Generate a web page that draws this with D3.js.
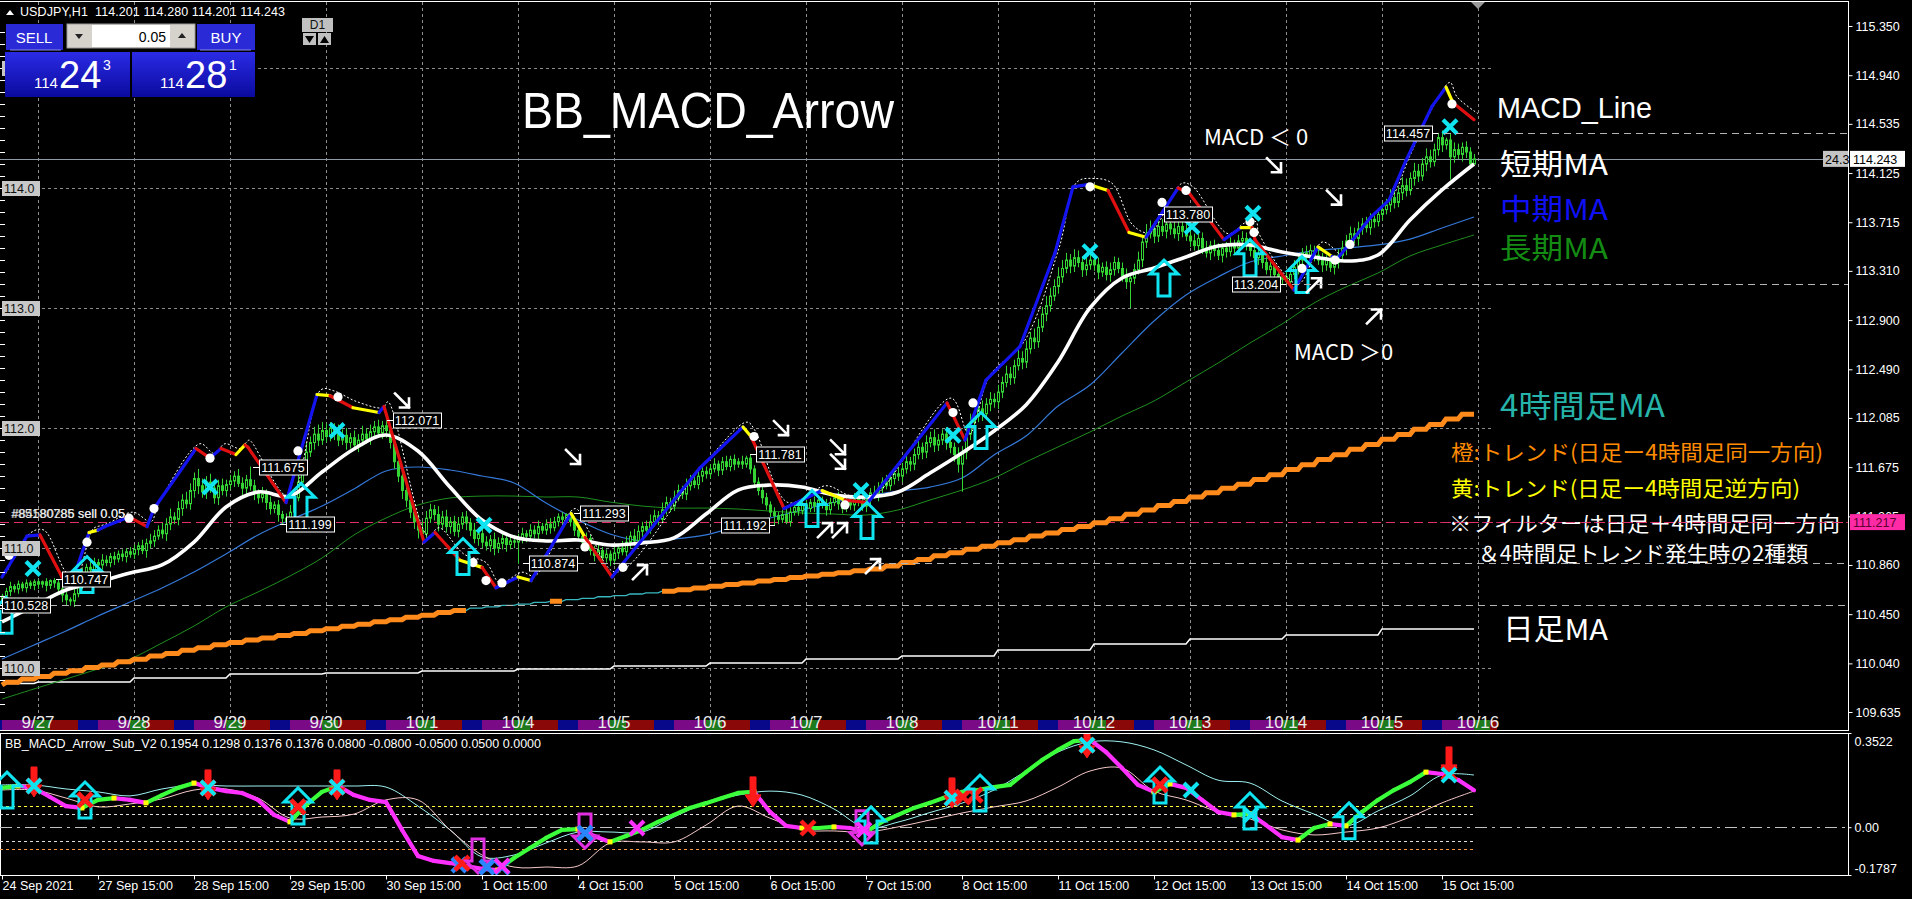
<!DOCTYPE html>
<html><head><meta charset="utf-8">
<script src="https://cdn.jsdelivr.net/npm/d3@7"></script>
<style>html,body{margin:0;padding:0;background:#000;overflow:hidden}svg{display:block}</style>
</head><body>
<svg id="chart" width="1912" height="899"></svg>
<script>
// ======================= DATA =======================
// hourly closes, Fri 24 Sep 15:00 .. Fri 15 Oct 23:00 (USDJPY H1)
const firstOpen = 110.57;
const closes = [
110.60,110.64,110.68,110.66,110.70,110.67,110.71,110.69,110.72,
110.70,110.72,110.69,110.73,110.71,110.66,110.61,110.57,110.56,110.62,110.70,110.78,110.84,110.82,110.88,110.86,110.90,110.88,110.93,110.91,110.95,110.93,110.97,110.95,
110.99,111.02,110.98,111.04,111.06,111.10,111.15,111.12,111.20,111.26,111.24,111.33,111.40,111.37,111.48,111.58,111.52,111.47,111.55,111.50,111.42,111.52,111.48,111.53,
111.56,111.60,111.54,111.50,111.57,111.52,111.46,111.42,111.45,111.38,111.33,111.36,111.28,111.25,111.22,111.30,111.42,111.55,111.68,111.80,111.88,111.95,111.90,111.98,
111.93,112.00,111.96,111.90,111.94,111.88,111.92,111.86,111.90,111.95,111.91,111.97,112.01,111.96,112.02,111.98,111.88,111.72,111.60,111.48,111.40,111.30,111.22,111.15,
111.12,111.25,111.32,111.28,111.20,111.26,111.18,111.22,111.14,111.20,111.26,111.21,111.15,111.08,111.12,111.05,111.02,111.07,111.00,111.04,111.08,111.03,111.06,111.05,
111.08,111.12,111.10,111.15,111.12,111.18,111.15,111.20,111.17,111.22,111.26,111.24,111.28,111.22,111.15,111.10,111.05,111.08,110.98,110.94,110.98,110.92,110.95,110.90,
110.96,111.00,110.97,111.05,111.10,111.06,111.14,111.18,111.15,111.22,111.27,111.24,111.32,111.38,111.35,111.42,111.48,111.45,111.52,111.56,111.53,111.60,111.64,111.62,
111.66,111.70,111.65,111.72,111.68,111.74,111.70,111.72,111.70,111.75,111.66,111.55,111.48,111.42,111.36,111.30,111.27,111.24,111.28,111.22,111.30,111.34,111.31,111.36,
111.33,111.38,111.35,111.40,111.36,111.32,111.38,111.42,111.37,111.33,111.39,111.36,111.41,111.38,111.35,111.40,111.46,111.44,111.50,111.55,111.52,111.58,111.62,111.60,
111.66,111.72,111.70,111.78,111.84,111.80,111.88,111.92,111.86,111.90,111.95,111.88,111.84,111.78,111.70,111.80,111.95,112.05,112.10,112.16,112.12,112.20,112.24,112.22,
112.30,112.38,112.45,112.42,112.52,112.58,112.55,112.66,112.75,112.72,112.84,112.95,113.02,113.10,113.18,113.26,113.33,113.40,113.35,113.42,113.38,113.32,113.36,113.40,
113.36,113.30,113.34,113.28,113.32,113.38,113.33,113.27,113.22,113.25,113.32,113.40,113.55,113.62,113.66,113.60,113.68,113.64,113.70,113.66,113.62,113.68,113.64,113.60,
113.56,113.52,113.58,113.50,113.46,113.52,113.48,113.44,113.50,113.47,113.53,113.50,113.56,113.58,113.54,113.48,113.42,113.45,113.38,113.32,113.35,113.28,113.24,113.26,
113.22,113.28,113.34,113.40,113.46,113.42,113.48,113.44,113.40,113.36,113.40,113.34,113.38,113.44,113.50,113.56,113.62,113.58,113.66,113.70,113.67,113.74,113.72,113.78,
113.82,113.86,113.92,113.88,113.96,114.02,113.98,114.08,114.14,114.10,114.20,114.26,114.22,114.32,114.42,114.36,114.40,114.26,114.32,114.28,114.34,114.30,114.20,114.243];
// upper / lower wick length in pips
const upWick = [
2,3,4,2,3,2,3,2,2,
2,1,3,1,2,3,4,3,2,5,4,6,3,5,4,3,5,4,3,4,3,4,3,4,
4,3,5,4,6,5,4,6,5,7,4,6,5,7,6,5,8,6,5,7,6,5,6,4,
5,4,6,5,4,11,5,3,6,4,5,3,4,3,4,6,5,7,6,8,5,6,8,7,
6,5,4,7,5,6,4,6,5,7,5,6,5,6,4,5,4,3,5,4,3,5,4,6,
8,6,5,4,7,5,6,4,5,6,4,5,4,6,5,4,5,4,6,5,4,5,4,5,
4,5,3,5,4,5,3,4,5,4,3,4,1,3,4,3,4,5,3,4,5,3,4,3,
5,4,6,5,4,6,5,4,5,6,5,4,6,5,4,6,5,4,6,5,4,5,6,4,
4,5,3,4,5,3,4,3,5,2,3,3,4,5,4,3,4,3,4,5,4,3,4,5,
4,3,5,4,3,5,4,3,5,4,3,4,5,3,4,5,4,6,5,4,6,5,4,5,
5,6,4,5,6,4,6,5,7,5,4,6,5,4,6,5,6,7,5,6,7,5,6,5,
6,5,7,6,5,8,6,7,5,8,7,6,8,7,6,8,7,6,5,7,6,5,6,5,
5,6,4,5,6,5,4,5,6,4,5,7,6,8,7,6,10,6,5,7,6,5,4,6,
5,6,4,5,6,4,5,6,4,5,6,4,5,6,5,4,5,6,4,5,4,3,4,3,
4,5,6,5,4,6,5,4,5,6,4,5,6,5,6,5,6,5,6,5,6,5,6,5,
6,5,7,6,5,7,6,5,7,6,5,7,6,5,4,6,2,5,6,5,4,5,4,4];
const dnWick = [
4,3,4,3,4,3,4,3,4,
4,3,5,3,4,5,6,5,4,5,3,4,5,4,3,5,4,3,4,5,3,4,5,3,
4,5,3,6,4,5,3,4,6,5,4,5,6,4,5,6,7,5,6,4,5,6,4,5,
4,5,3,6,5,4,6,5,4,6,5,4,6,5,2,4,5,3,4,5,4,6,5,4,
5,4,6,5,4,6,5,4,6,5,4,5,6,4,5,6,5,6,5,7,6,5,6,7,
5,6,4,5,6,4,5,6,4,5,4,6,5,4,6,5,4,5,6,4,5,6,4,5,
18,4,5,3,4,5,3,4,5,3,4,5,3,4,5,4,5,3,4,5,4,3,4,5,
4,5,3,4,5,4,3,5,4,3,4,5,3,4,5,4,3,4,5,4,3,4,5,4,
4,3,5,4,3,4,5,3,4,3,4,5,4,5,4,4,8,4,3,2,4,3,4,3,
4,3,5,4,3,5,4,3,5,4,3,4,5,3,4,5,4,3,5,4,3,4,5,4,
5,4,6,5,4,6,5,4,6,5,4,6,5,6,7,23,6,5,6,5,6,5,6,5,
6,5,4,6,5,4,6,5,4,6,5,4,6,5,4,6,5,4,6,5,4,6,5,4,
5,6,4,5,6,5,4,5,6,22,5,4,6,5,4,6,5,4,6,5,4,6,5,4,
5,4,6,5,4,6,5,4,6,5,4,6,5,4,6,5,4,6,5,4,6,5,3,4,
2,5,4,6,5,4,6,5,4,6,5,4,6,5,4,6,5,4,6,5,4,6,5,4,
5,4,6,5,4,6,5,4,6,5,4,6,5,4,5,6,4,19,5,4,6,5,4,0];

// moving averages sampled every 8 bars
const maShort = [110.385,110.518,110.651,110.718,110.793,110.860,111.051,111.343,111.468,111.434,
111.634,111.826,111.943,111.809,111.509,111.234,111.093,111.060,111.068,111.026,
111.043,111.085,111.284,111.484,111.526,111.509,111.443,111.426,111.468,111.626,
111.793,111.976,112.193,112.551,113.001,113.251,113.334,113.426,113.517,113.526,
113.467,113.426,113.392,113.442,113.734,113.984,114.200];
const maMid = [110.076,110.193,110.310,110.435,110.551,110.668,110.801,110.951,111.110,111.234,
111.351,111.493,111.643,111.676,111.651,111.601,111.543,111.376,111.234,111.118,
111.060,111.076,111.110,111.184,111.251,111.318,111.384,111.434,111.476,111.509,
111.584,111.776,111.934,112.184,112.359,112.626,112.892,113.109,113.259,113.384,
113.434,113.476,113.501,113.526,113.575,113.667,113.759];
const maLong = [109.743,109.827,109.910,109.993,110.076,110.210,110.351,110.510,110.635,110.768,
110.918,111.110,111.251,111.359,111.418,111.434,111.434,111.426,111.426,111.384,
111.351,111.334,111.334,111.326,111.309,111.293,111.284,111.276,111.318,111.401,
111.484,111.584,111.718,111.843,111.968,112.101,112.226,112.384,112.542,112.709,
112.867,113.042,113.176,113.292,113.434,113.526,113.609];
// 4-hour MA per 4H block, and trend flag (1 = orange trend)
const ma4h = [109.860,109.882,109.909,109.931,109.957,109.978,110.005,110.027,110.054,110.075,
110.101,110.122,110.150,110.171,110.196,110.214,110.235,110.252,110.273,110.290,
110.311,110.328,110.349,110.366,110.387,110.404,110.425,110.442,110.463,110.480,
110.500,110.511,110.524,110.534,110.548,110.557,110.571,110.581,110.595,110.604,
110.618,110.628,110.641,110.654,110.669,110.682,110.698,110.710,110.726,110.738,
110.755,110.767,110.783,110.795,110.811,110.826,110.851,110.881,110.906,110.936,
110.961,110.991,111.016,111.046,111.071,111.101,111.126,111.156,111.181,111.211,
111.245,111.283,111.317,111.355,111.389,111.427,111.461,111.499,111.533,111.571,
111.611,111.655,111.695,111.739,111.779,111.823,111.863,111.907,111.947,111.991,
112.031,112.075,112.115];
const trend4h = [1,1,1,1,1,1,1,1,1,1, 1,1,1,1,1,1,1,1,1,1, 1,1,1,1,1,1,1,1,1,1,
0,0,0,0,0,1,0,0,0,0, 0,0,1,1,1,1,1,1,1,1, 1,1,1,1,1,1,1,1,1,1, 1,1,1,1,1,1,1,1,1,1,
1,1,1,1,1,1,1,1,1,1, 1,1,1,1,1,1,1,1,1,1, 1,1,1];
// daily MA per day (Fri 24 Sep .. Fri 15 Oct)
const maDaily = [109.872,109.885,109.918,109.951,109.960,109.976,109.993,110.018,110.043,110.077,110.102,110.152,110.202,110.243,110.277,110.327];

// MACD_Line (colored trend line on price chart): vertices (bar, price) and segment colors
const mlBar = [0,6.25,9.5,15,17.5,21.75,24,25.75,31.75,36.25,38,48.5,52,54.75,58.5,60.75,61.5,71,78.75,82,87.75,94.25,95.5,105.5,108.25,114.5,120,123.5,129,132.25,142.25,145.75,152.5,174.5,185.25,187.25,195.5,205,210.75,216.5,236.25,240.75,246,254.5,263.25,267.75,271.75,276.5,281.75,286,294,296.75,305.5,309.75,312.5,313.25,323,329,332.5,333.5,337,342.25,346.75,351,357.5,361,362.75,368];
const mlPrice = [110.76,111.10,111.11,110.76,110.72,111.13,111.15,111.18,111.26,111.18,111.33,111.83,111.75,111.83,111.78,111.86,111.84,111.38,112.28,112.27,112.17,112.13,112.18,111.05,111.13,110.90,110.84,110.67,110.76,110.73,111.29,111.09,110.76,111.67,112.01,111.93,111.33,111.48,111.40,111.38,112.21,111.90,112.40,112.68,113.46,114.01,114.03,113.98,113.63,113.59,114.00,113.96,113.57,113.67,113.67,113.57,113.15,113.51,113.43,113.40,113.54,113.76,113.90,114.23,114.68,114.84,114.71,114.57];
const mlColor = ['b','b','r','r','b','y','b','b','r','b','b','r','b','r','y','r','r','b','y','r','y','b','r','b','r','y','r','b','y','b','y','r','b','b','y','r','b','y','r','b','r','b','b','b','b','b','y','r','y','b','r','r','b','y','r','r','b','y','b','b','b','b','b','b','b','y','r'];
// dotted band accompanying the MACD_Line (same bars as mlBar)
const bbBand = [110.79,111.13,111.15,110.80,110.75,111.16,111.19,111.21,111.30,111.22,
111.36,111.87,111.79,111.87,111.83,111.90,111.88,111.42,112.32,112.31,
112.22,112.17,112.22,111.10,111.17,110.95,110.88,110.71,110.80,110.77,
111.33,111.14,110.80,111.70,112.05,111.98,111.38,111.52,111.44,111.42,
112.25,111.95,112.44,112.72,113.50,114.05,114.08,114.04,113.69,113.63,
114.04,114.01,113.62,113.71,113.72,113.62,113.20,113.55,113.48,113.45,
113.58,113.80,113.94,114.27,114.72,114.88,114.76,114.62];

// signal markers on price chart
const dotBar = [1.75,21.25,31.75,38,52,74,84,117.75,121,125,145.75,155.25,188,210.75,237.75,242.75,272,290,296,312,313,325,333.25,337,362.5];
const dotPrice = [110.94,111.05,111.25,111.33,111.75,111.81,112.26,110.88,110.73,110.71,111.01,110.84,111.93,111.36,112.13,112.21,114.01,113.88,113.98,113.72,113.63,113.33,113.40,113.53,114.70];
const crossBar = [7.75,52,83.75,120.5,214.75,237.75,272,297.5,312.75,362];
const crossPrice = [110.83,111.51,111.98,111.19,111.48,111.94,113.47,113.68,113.79,114.51];
const upArrBar = [1,21.25,74.75,115.25,202.5,216.25,244.75,290.5,312,325];
const upArrPrice = [110.59,110.93,111.54,111.08,111.48,111.38,112.13,113.40,113.57,113.43];
const wArrows = [['se',100,112.23],['se',142.75,111.76],['ne',159.5,110.80],['se',194.75,112.00],['se',209,111.84],['se',209,111.72],['ne',205.75,111.15],['ne',209.5,111.15],['ne',217.75,110.85],['se',318,114.19],['se',333,113.92],['ne',328,113.19],['ne',343,112.93]];
// high/low price labels
const lblPrice = [110.528,110.747,111.675,111.199,112.071,110.874,111.293,111.192,111.781,113.780,113.204,114.457];
const lblBar = [-1.5,13.5,62.75,69.5,96.25,130.25,143,193.25,187,289,321,359];
const lblSide = ['R','R','R','R','R','R','R','L','R','R','L','L'];
const lblExtend = [1,0,0,0,0,1,0,0,0,0,1,1];

// sub window (BB_MACD_Arrow_Sub_V2)
const macdSub = [0.147,0.154,0.147,0.113,0.079,0.072,0.102,0.109,0.102,0.091,
0.120,0.147,0.165,0.147,0.135,0.128,0.102,0.046,0.020,0.083,
0.132,0.154,0.120,0.102,0.094,-0.010,-0.108,-0.126,-0.134,-0.145,
-0.156,-0.160,-0.115,-0.078,-0.040,-0.010,-0.007,-0.033,-0.055,-0.033,
-0.010,0.020,0.046,0.072,0.090,0.109,0.128,0.132,0.057,0.005,
-0.003,-0.003,0.001,-0.003,-0.018,0.020,0.046,0.072,0.091,0.113,
0.132,0.139,0.150,0.158,0.206,0.251,0.289,0.322,0.326,0.281,
0.221,0.158,0.132,0.162,0.147,0.102,0.057,0.046,0.050,0.008,
-0.037,-0.048,-0.003,0.012,0.005,0.057,0.102,0.139,0.169,0.206,
0.199,0.177,0.138];
const upperSub = [0.158,0.158,0.143,0.132,0.117,0.143,0.158,0.154,0.154,0.154,
0.154,0.154,0.150,0.079,-0.010,-0.111,-0.104,-0.059,-0.018,-0.018,
-0.018,0.038,0.091,0.120,0.135,0.120,0.068,-0.003,0.019,0.055,
0.090,0.139,0.210,0.281,0.319,0.319,0.289,0.233,0.176,0.165,
0.098,0.049,0.005,0.061,0.117,0.195,0.195];
const lowerSub = [0.139,0.139,0.109,0.076,0.087,0.106,0.139,0.143,0.109,0.034,
0.038,0.049,0.102,0.102,-0.010,-0.104,-0.149,-0.149,-0.145,-0.059,
-0.055,-0.055,0.008,0.079,0.034,-0.010,-0.014,-0.018,0.001,0.027,
0.053,0.076,0.098,0.150,0.210,0.221,0.135,0.102,0.057,0.031,
-0.010,-0.029,-0.018,-0.003,0.038,0.091,0.135];
const subLevels = [0.08,0.05,0,-0.05,-0.08];
const subMarks = [
['upC',1.25,0.206],['dnR',8,0.113],['xR',8,0.154],['xC',8,0.154],
['upC',20.75,0.169],['xR',20.75,0.102],
['dnR',51.5,0.102],['xR',51.5,0.147],['xC',51.5,0.147],
['upC',74,0.147],['xR',74,0.076],
['dnR',83.75,0.102],['xR',83.75,0.150],['xC',83.75,0.150],
['xB',114.25,-0.141],['xR',115,-0.134],['dnM',119,-0.171],
['xB',121.25,-0.149],['xB',125,-0.149],['xM',125,-0.145],
['dnM',145.75,-0.078],['xB',145.75,-0.022],['xM',158.75,-0.003],
['dnR',187.75,0.076],['xR',201.5,-0.003],
['dnM',215,-0.066],['upC',217.25,0.076],['xM',215.5,-0.010],
['dnR',237.5,0.072],['xR',237.5,0.109],['xC',237.5,0.109],
['xR',240.25,0.113],['xR',243.25,0.120],['upC',244.5,0.195],
['dnR',271.25,0.259],['xR',271.25,0.307],['xC',271.25,0.307],
['upC',289.5,0.225],['xR',289.5,0.158],['xC',297.25,0.139],
['upC',312,0.128],['xC',312.25,0.046],['upC',336.75,0.091],
['dnR',361.75,0.188],['xR',361.75,0.203],['xC',361.75,0.195]];

// axes
const rightTicks = [115.350,114.940,114.535,114.125,113.715,113.310,112.900,112.490,112.085,111.675,111.265,110.860,110.450,110.040,109.635];
const leftLabels = [115.0,114.0,113.0,112.0,111.0,110.0];
const subTicks = [0.3522,0.0,-0.1787];
const subTickText = ['0.3522','0.00','-0.1787'];
const timeBars = [0,24,48,72,96,120,144,168,192,216,240,264,288,312,336,360];
const timeLabels = ['24 Sep 2021','27 Sep 15:00','28 Sep 15:00','29 Sep 15:00','30 Sep 15:00','1 Oct 15:00','4 Oct 15:00','5 Oct 15:00','6 Oct 15:00','7 Oct 15:00','8 Oct 15:00','11 Oct 15:00','12 Oct 15:00','13 Oct 15:00','14 Oct 15:00','15 Oct 15:00'];
const dateLabels = ['9/27','9/28','9/29','9/30','10/1','10/4','10/5','10/6','10/7','10/8','10/11','10/12','10/13','10/14','10/15','10/16'];
const sessions = [[0,3,'#1d7a1d'],[3,10,'#8a0808'],[10,15,'#08088a'],[15,23,'#7a0a86'],[23,24,'#1d7a1d']];
const bidPrice = 114.243, orderPrice = 111.217;
const ohlcHeader = 'USDJPY,H1  114.201 114.280 114.201 114.243';
const subHeader = 'BB_MACD_Arrow_Sub_V2 0.1954 0.1298 0.1376 0.1376 0.0800 -0.0800 -0.0500 0.0500 0.0000';

// ======================= DRAW =======================
const F = "'Liberation Sans', Arial, 'DejaVu Sans', sans-serif";
const FJ = "'Noto Sans CJK JP', 'Noto Sans', sans-serif";
const GREEN = '#35d435';
const svg = d3.select('#chart');
svg.append('rect').attr('width',1912).attr('height',899).attr('fill','#000');
const defs = svg.append('defs');
defs.append('clipPath').attr('id','clipMain').append('rect').attr('x',0).attr('y',2).attr('width',1848).attr('height',718);
defs.append('clipPath').attr('id','clipSub').append('rect').attr('x',0).attr('y',734).attr('width',1848).attr('height',141);
const gr = defs.append('linearGradient').attr('id','gBlue').attr('x1',0).attr('y1',0).attr('x2',0).attr('y2',1);
gr.append('stop').attr('offset','0%').attr('stop-color','#2b2be6');
gr.append('stop').attr('offset','100%').attr('stop-color','#0a0a9e');

const x = d3.scaleLinear().domain([0,368]).range([2,1474]);
const y = d3.scaleLinear().domain([109.635,115.350]).range([712,26]);
const ys = d3.scaleLinear().domain([-0.1787,0.3522]).range([875,733]);

const gM = svg.append('g').attr('clip-path','url(#clipMain)');

// grid
gM.append('g').selectAll('line').data(dateLabels).join('line')
  .attr('x1',(d,i)=>x(9+24*i)+0.5).attr('x2',(d,i)=>x(9+24*i)+0.5).attr('y1',2).attr('y2',720)
  .attr('stroke','#8e8e8e').attr('stroke-dasharray','3,3').attr('stroke-width',1);
gM.append('g').selectAll('line').data(leftLabels).join('line')
  .attr('x1',0).attr('x2',x(372.75)).attr('y1',d=>Math.round(y(d))+0.5).attr('y2',d=>Math.round(y(d))+0.5)
  .attr('stroke','#8e8e8e').attr('stroke-dasharray','3,3').attr('stroke-width',1);

// bid line and order line
gM.append('line').attr('x1',0).attr('x2',1848).attr('y1',Math.round(y(bidPrice))+0.5).attr('y2',Math.round(y(bidPrice))+0.5).attr('stroke','#8f9aa8').attr('stroke-width',1);
gM.append('line').attr('x1',0).attr('x2',1848).attr('y1',Math.round(y(orderPrice))+0.5).attr('y2',Math.round(y(orderPrice))+0.5).attr('stroke','#e0306a').attr('stroke-dasharray','9,5').attr('stroke-width',1);

// daily MA (stepped)
const dayOf = i => i<9 ? 0 : 1+Math.floor((i-9)/24);
const blockOf = i => i===0 ? 0 : (i<9 ? 1+Math.floor((i-1)/4) : 3+Math.floor((i-9)/4));
const idx = d3.range(closes.length);
gM.append('path').datum(idx).attr('fill','none').attr('stroke','#ffffff').attr('stroke-width',1.5)
  .attr('d',d3.line().x(i=>x(i)).y(i=>y(maDaily[dayOf(i)])));

// long & mid MA
const lineS = d3.line().x(d=>x(d.b)).y(d=>y(d.v)).curve(d3.curveCatmullRom);
gM.append('path').datum(maLong.map((v,k)=>({b:k*8,v}))).attr('fill','none').attr('stroke','#1f8f1f').attr('stroke-width',1).attr('d',lineS);
gM.append('path').datum(maMid.map((v,k)=>({b:k*8,v}))).attr('fill','none').attr('stroke','#3478d8').attr('stroke-width',1.2).attr('d',lineS);

// 4H MA: thin teal base + orange trend overlay
gM.append('path').datum(idx).attr('fill','none').attr('stroke','#3ab8c0').attr('stroke-width',1.3)
  .attr('d',d3.line().x(i=>x(i)).y(i=>y(ma4h[blockOf(i)])));
gM.append('path').datum(idx).attr('fill','none').attr('stroke','#ff8a1c').attr('stroke-width',5)
  .attr('d',d3.line().defined(i=>trend4h[blockOf(i)]===1).x(i=>x(i)).y(i=>y(ma4h[blockOf(i)])));

// candles
const bars = closes.map((c,i)=>{const o=i?closes[i-1]:firstOpen;return {i,o,c,h:Math.max(o,c)+(upWick[i]||0)/100,l:Math.min(o,c)-(dnWick[i]||0)/100};});
const gC = gM.append('g');
gC.selectAll('line').data(bars).join('line')
  .attr('x1',d=>x(d.i)+0.5).attr('x2',d=>x(d.i)+0.5).attr('y1',d=>y(d.h)).attr('y2',d=>y(d.l))
  .attr('stroke',GREEN).attr('stroke-width',1);
gC.selectAll('rect').data(bars).join('rect')
  .attr('x',d=>x(d.i)-0.5).attr('width',2)
  .attr('y',d=>y(Math.max(d.o,d.c))).attr('height',d=>Math.max(0.5,Math.abs(y(d.o)-y(d.c))))
  .attr('fill',d=>d.c>=d.o?'#000':GREEN).attr('stroke',GREEN).attr('stroke-width',1);

// short MA thick white
gM.append('path').datum(maShort.map((v,k)=>({b:k*8,v}))).attr('fill','none').attr('stroke','#ffffff').attr('stroke-width',3.6).attr('d',lineS);

// dotted band
gM.append('path').datum(bbBand.map((v,k)=>({b:mlBar[k]+1,v}))).attr('fill','none').attr('stroke','#ffffff')
  .attr('stroke-width',1).attr('stroke-dasharray','2,2').attr('d',lineS);

// MACD_Line colored segments
const colMap = {b:'#1414f0',r:'#e01010',y:'#ffff00'};
const mlSegs = mlColor.map((c,k)=>({c,p:[[mlBar[k],mlPrice[k]],[mlBar[k+1],mlPrice[k+1]]]}));
gM.append('g').selectAll('path').data(mlSegs).join('path')
  .attr('fill','none').attr('stroke',d=>colMap[d.c]).attr('stroke-width',3.2).attr('stroke-linecap','round')
  .attr('d',d=>d3.line().x(p=>x(p[0])).y(p=>y(p[1]))(d.p));

// white dots
gM.append('g').selectAll('circle').data(dotBar).join('circle')
  .attr('cx',(b)=>x(b)).attr('cy',(b,i)=>y(dotPrice[i])).attr('r',4.6).attr('fill','#ffffff');

// cyan up arrows (hollow)
const upPath = 'M0,0 L14,14 L6,14 L6,36 L-6,36 L-6,14 L-14,14 Z';
gM.append('g').selectAll('path').data(upArrBar).join('path')
  .attr('transform',(b,i)=>`translate(${x(b)},${y(upArrPrice[i])})`).attr('d',upPath)
  .attr('fill','none').attr('stroke','#10e4f0').attr('stroke-width',3).attr('stroke-linejoin','miter');

// cyan X marks
const xPath = 'M-7,-7 L7,7 M-7,7 L7,-7';
gM.append('g').selectAll('path').data(crossBar).join('path')
  .attr('transform',(b,i)=>`translate(${x(b)},${y(crossPrice[i])})`).attr('d',xPath)
  .attr('stroke','#10e4f0').attr('stroke-width',4.2).attr('fill','none');

// white arrows
const arrPaths = {se:'M-7,-7 L7,7 M7,7 L7,-2 M7,7 L-2,7', ne:'M-7,7 L7,-7 M7,-7 L-2,-7 M7,-7 L7,2'};
gM.append('g').selectAll('path').data(wArrows).join('path')
  .attr('transform',d=>`translate(${x(d[1])},${y(d[2])})`).attr('d',d=>arrPaths[d[0]])
  .attr('stroke','#ffffff').attr('stroke-width',2.6).attr('fill','none').attr('stroke-linecap','square');

// price labels with leader / extension lines
const LW = 48, LH = 15;
lblPrice.forEach((p,i)=>{
  const bx = x(lblBar[i]);
  const py = Math.round(y(p))+0.5;
  const left = lblSide[i]==='R' ? bx+6 : bx-6-LW;
  const g = gM.append('g');
  if (lblExtend[i]) {
    g.append('line').attr('x1',left+LW).attr('x2',1848).attr('y1',py).attr('y2',py)
      .attr('stroke','#b4b4b4').attr('stroke-dasharray','7,5').attr('stroke-width',1);
  }
  g.append('line').attr('x1',bx).attr('x2',lblSide[i]==='R'?left:left+LW).attr('y1',py).attr('y2',py).attr('stroke','#ffffff').attr('stroke-width',1);
  g.append('rect').attr('x',Math.round(left)+0.5).attr('y',Math.round(py-LH/2)).attr('width',LW).attr('height',LH)
    .attr('fill','#000').attr('stroke','#ffffff').attr('stroke-width',1);
  g.append('text').attr('x',left+LW/2).attr('y',py+4.5).attr('text-anchor','middle')
    .attr('font-family',F).attr('font-size',12.5).attr('fill','#ffffff').text(p.toFixed(3));
});

// order text
gM.append('text').attr('x',11).attr('y',y(orderPrice)-4).attr('font-family',F).attr('font-size',13.5).attr('fill','#ececec')
  .attr('textLength',114).attr('lengthAdjust','spacingAndGlyphs').text('#85180785 sell 0.05');
gM.append('text').attr('x',12).attr('y',y(orderPrice)-4).attr('font-family',F).attr('font-size',13.5).attr('fill','#ececec').attr('opacity',0.8)
  .attr('textLength',113).attr('lengthAdjust','spacingAndGlyphs').text('#84580286 sell 0.05');

// ---- titles / legends
svg.append('text').attr('x',522).attr('y',128).attr('font-family',F).attr('font-size',50).attr('fill','#fff')
  .attr('textLength',372).attr('lengthAdjust','spacingAndGlyphs').text('BB_MACD_Arrow');
svg.append('text').attr('x',1204).attr('y',145).attr('font-family',FJ).attr('font-size',22).attr('fill','#fff').text('MACD ＜ 0');
svg.append('text').attr('x',1294).attr('y',360).attr('font-family',FJ).attr('font-size',22).attr('fill','#fff').text('MACD ＞0');
const legends = [
  ['MACD_Line',1497,118,29,'#ffffff',F,155],
  ['短期MA',1500,175,29,'#ffffff',FJ,108],
  ['中期MA',1500,220,29,'#1010f4',FJ,108],
  ['長期MA',1500,259,29,'#148c14',FJ,108],
  ['4時間足MA',1500,417,31,'#26b4aa',FJ,165],
  ['橙:トレンド(日足ー4時間足同一方向)',1451,460,21,'#ff8c00',FJ,372],
  ['黄:トレンド(日足ー4時間足逆方向)',1451,496,21,'#ffff00',FJ,349],
  ['※フィルターは日足＋4時間足同一方向',1449,531,21,'#ffffff',FJ,391],
  ['＆4時間足トレンド発生時の2種類',1478,561,21,'#ffffff',FJ,330],
  ['日足MA',1503,640,29,'#ffffff',FJ,105]
];
svg.append('g').selectAll('text').data(legends).join('text')
  .attr('x',d=>d[1]).attr('y',d=>d[2]).attr('font-size',d=>d[3]).attr('fill',d=>d[4]).attr('font-family',d=>d[5])
  .attr('textLength',d=>d[6]).attr('lengthAdjust','spacingAndGlyphs').text(d=>d[0]);
// the order line passes over the filter note
svg.append('line').attr('x1',1440).attr('x2',1848).attr('y1',Math.round(y(orderPrice))+0.5).attr('y2',Math.round(y(orderPrice))+0.5).attr('stroke','#e0306a').attr('stroke-dasharray','9,5').attr('stroke-width',1).attr('opacity',0.8);

// ---- date session bar
const gD = svg.append('g');
const sessRects = [];
for (let d=-1; d<=15; d++) sessions.forEach(s=>{
  const x0 = x(9+24*d+s[0]), x1 = x(9+24*d+s[1]);
  const a = Math.max(0,x0), b = Math.min(x(373.75),x1);
  if (b>a) sessRects.push({a,b,c:s[2]});
});
gD.selectAll('rect').data(sessRects).join('rect').attr('x',d=>d.a).attr('width',d=>d.b-d.a).attr('y',720).attr('height',10).attr('fill',d=>d.c);
gD.selectAll('text').data(dateLabels).join('text')
  .attr('x',(d,i)=>x(9+24*i)).attr('y',728).attr('text-anchor','middle')
  .attr('font-family',F).attr('font-size',17).attr('fill','#ececec').text(d=>d);

// ---- frame lines
svg.append('line').attr('x1',0).attr('x2',1848).attr('y1',1.5).attr('y2',1.5).attr('stroke','#fff');
svg.append('line').attr('x1',1848.5).attr('x2',1848.5).attr('y1',1).attr('y2',731).attr('stroke','#fff');
svg.append('line').attr('x1',0).attr('x2',1849).attr('y1',730.5).attr('y2',730.5).attr('stroke','#fff');
svg.append('rect').attr('x',0.5).attr('y',733.5).attr('width',1848).attr('height',142).attr('fill','none').attr('stroke','#fff');
// chart shift marker
svg.append('path').attr('d',`M${x(369)-7},2 L${x(369)+7},2 L${x(369)},9 Z`).attr('fill','#9a9a9a');

// ---- right price axis
const axR = svg.append('g').attr('transform','translate(1848.5,0)')
  .call(d3.axisRight(y).tickValues(rightTicks).tickFormat(d3.format('.3f')).tickSize(4).tickPadding(3));
axR.select('.domain').remove();
axR.selectAll('line').attr('stroke','#fff');
axR.selectAll('text').attr('fill','#fff').attr('font-family',F).attr('font-size',12.5);
// current bid tag
svg.append('rect').attr('x',1823).attr('y',y(bidPrice)-8).attr('width',25).attr('height',16).attr('fill','#c4c4c4');
svg.append('text').attr('x',1825).attr('y',y(bidPrice)+5).attr('font-family',F).attr('font-size',12.5).attr('fill','#000').text('24.3');
svg.append('rect').attr('x',1850).attr('y',y(bidPrice)-8).attr('width',55).attr('height',16).attr('fill','#fff');
svg.append('text').attr('x',1853).attr('y',y(bidPrice)+5).attr('font-family',F).attr('font-size',12.5).attr('fill','#000').text(bidPrice.toFixed(3));
svg.append('rect').attr('x',1850).attr('y',y(orderPrice)-8).attr('width',55).attr('height',16).attr('fill','#ff2aa6');
svg.append('text').attr('x',1853).attr('y',y(orderPrice)+5).attr('font-family',F).attr('font-size',12.5).attr('fill','#5a0030').text(orderPrice.toFixed(3));

// ---- left labels and ticks
const gL = svg.append('g');
gL.selectAll('line').data(d3.range(1097,1154).map(v=>v/10)).join('line')
  .attr('x1',0).attr('x2',5).attr('y1',d=>Math.round(y(d))+0.5).attr('y2',d=>Math.round(y(d))+0.5).attr('stroke','#fff');
gL.selectAll('rect').data(leftLabels).join('rect').attr('x',2).attr('y',d=>Math.round(y(d))-7).attr('width',38).attr('height',15).attr('fill','#c8c8c8');
gL.selectAll('text').data(leftLabels).join('text').attr('x',4).attr('y',d=>Math.round(y(d))+5)
  .attr('font-family',F).attr('font-size',12.5).attr('fill','#111').text(d=>d.toFixed(1));

// ---- sub window
const gS = svg.append('g').attr('clip-path','url(#clipSub)');
const lvlColors = ['#ffff40','#e0e0e0','#c0c0c0','#e0e0e0','#ff9a3c'];
gS.selectAll('line.lv').data(subLevels).join('line')
  .attr('x1',0).attr('x2',(d)=>d===0?1848:x(368)).attr('y1',d=>Math.round(ys(d))+0.5).attr('y2',d=>Math.round(ys(d))+0.5)
  .attr('stroke',(d,i)=>lvlColors[i]).attr('stroke-width',1)
  .attr('stroke-dasharray',d=>d===0?'12,5,3,5':'3,3');
const lineSub = d3.line().x(d=>x(d.b)).y(d=>ys(d.v)).curve(d3.curveCatmullRom);
gS.append('path').datum(upperSub.map((v,k)=>({b:k*8,v}))).attr('fill','none').attr('stroke','#9ff2f2').attr('stroke-width',1).attr('d',lineSub);
gS.append('path').datum(lowerSub.map((v,k)=>({b:k*8,v}))).attr('fill','none').attr('stroke','#f5c8c8').attr('stroke-width',1).attr('d',lineSub);
const subSegs = macdSub.slice(0,-1).map((v,k)=>({k,a:v,b:macdSub[k+1]}));
gS.append('g').selectAll('line').data(subSegs).join('line')
  .attr('x1',d=>x(d.k*4)).attr('x2',d=>x(d.k*4+4)).attr('y1',d=>ys(d.a)).attr('y2',d=>ys(d.b))
  .attr('stroke',d=>d.b>=d.a?'#3cff3c':'#ff30ff').attr('stroke-width',4.2).attr('stroke-linecap','round');
const turns = subSegs.filter((d,i)=>i>0 && ((d.b>=d.a)!==(subSegs[i-1].b>=subSegs[i-1].a)));
gS.append('g').selectAll('rect').data(turns).join('rect')
  .attr('x',d=>x(d.k*4)-2.5).attr('y',d=>ys(d.a)-2.5).attr('width',5).attr('height',5).attr('fill','#ffff00');
const subShapes = {
  upC:{d:upPath,fill:'none',stroke:'#10e4f0',sw:3},
  dnM:{d:'M0,0 L-12,-12 L-6,-12 L-6,-34 L6,-34 L6,-12 L12,-12 Z',fill:'none',stroke:'#e02ee0',sw:3},
  dnR:{d:'M0,0 L-8,-12 L-3,-12 L-3,-30 L3,-30 L3,-12 L8,-12 Z',fill:'#ff1a1a',stroke:'#ff1a1a',sw:1},
  xR:{d:xPath,fill:'none',stroke:'#ff1a1a',sw:4.5},
  xC:{d:xPath,fill:'none',stroke:'#10e4f0',sw:4},
  xB:{d:xPath,fill:'none',stroke:'#2a86ff',sw:4.5},
  xM:{d:xPath,fill:'none',stroke:'#ff30ff',sw:4}
};
gS.append('g').selectAll('path').data(subMarks).join('path')
  .attr('transform',d=>`translate(${x(d[1])},${ys(d[2])})`).attr('d',d=>subShapes[d[0]].d)
  .attr('fill',d=>subShapes[d[0]].fill).attr('stroke',d=>subShapes[d[0]].stroke).attr('stroke-width',d=>subShapes[d[0]].sw);
svg.append('text').attr('x',5).attr('y',748).attr('font-family',F).attr('font-size',12.5).attr('fill','#fff')
  .attr('textLength',536).attr('lengthAdjust','spacing').text(subHeader);
// sub right axis
const axS = svg.append('g').attr('transform','translate(1848.5,0)')
  .call(d3.axisRight(ys).tickValues(subTicks).tickFormat((d,i)=>subTickText[i]).tickSize(3).tickPadding(3));
axS.select('.domain').remove();
axS.selectAll('line').attr('stroke','#fff');
axS.selectAll('text').attr('fill','#fff').attr('font-family',F).attr('font-size',12.5)
  .attr('dy',(d,i)=>i===0?'1.0em':(i===2?'-0.2em':'0.32em'));

// ---- bottom time axis
const axB = svg.append('g').attr('transform','translate(0,875.5)')
  .call(d3.axisBottom(x).tickValues(timeBars).tickFormat((d,i)=>timeLabels[i]).tickSize(4).tickPadding(2));
axB.select('.domain').remove();
axB.selectAll('line').attr('stroke','#fff');
axB.selectAll('text').attr('fill','#fff').attr('font-family',F).attr('font-size',12.5).attr('text-anchor','start');

// ---- header & trade panel
svg.append('path').attr('d','M6,15 L10,10 L14,15 Z').attr('fill','#fff');
svg.append('text').attr('x',20).attr('y',16).attr('font-family',F).attr('font-size',12.5).attr('fill','#fff')
  .attr('textLength',265).attr('lengthAdjust','spacing').attr('xml:space','preserve').text(ohlcHeader);
const tp = svg.append('g');
tp.append('rect').attr('x',5).attr('y',23).attr('width',250).attr('height',75).attr('fill','#000');
tp.append('rect').attr('x',6).attr('y',24).attr('width',57).attr('height',26).attr('fill','#2a2ad6');
tp.append('line').attr('x1',10).attr('x2',61).attr('y1',50).attr('y2',50).attr('stroke','#8a8af0');
tp.append('text').attr('x',34).attr('y',43).attr('text-anchor','middle').attr('font-family',F).attr('font-size',15).attr('fill','#fff').text('SELL');
tp.append('rect').attr('x',67).attr('y',24).attr('width',128).attr('height',24).attr('fill','#d6d3cc').attr('stroke','#9a9a9a');
tp.append('rect').attr('x',92).attr('y',25).attr('width',78).attr('height',22).attr('fill','#ffffff');
tp.append('path').attr('d','M75,34 L83,34 L79,39 Z').attr('fill','#222');
tp.append('path').attr('d','M178,38 L186,38 L182,33 Z').attr('fill','#222');
tp.append('text').attr('x',166).attr('y',42).attr('text-anchor','end').attr('font-family',F).attr('font-size',14).attr('fill','#000').text('0.05');
tp.append('rect').attr('x',197).attr('y',24).attr('width',58).attr('height',26).attr('fill','#2a2ad6');
tp.append('line').attr('x1',200).attr('x2',251).attr('y1',50).attr('y2',50).attr('stroke','#8a8af0');
tp.append('text').attr('x',226).attr('y',43).attr('text-anchor','middle').attr('font-family',F).attr('font-size',15).attr('fill','#fff').text('BUY');
tp.append('rect').attr('x',5).attr('y',52).attr('width',125).attr('height',45).attr('fill','url(#gBlue)');
tp.append('rect').attr('x',132).attr('y',52).attr('width',123).attr('height',45).attr('fill','url(#gBlue)');
const quotes = [[34,'114','24','3'],[160,'114','28','1']];
quotes.forEach(q=>{
  tp.append('text').attr('x',q[0]).attr('y',88).attr('font-family',F).attr('font-size',15).attr('fill','#fff').text(q[1]);
  tp.append('text').attr('x',q[0]+25).attr('y',88).attr('font-family',F).attr('font-size',38).attr('fill','#fff').text(q[2]);
  tp.append('text').attr('x',q[0]+69).attr('y',70).attr('font-family',F).attr('font-size',14).attr('fill','#fff').text(q[3]);
});
// D1 box
tp.append('rect').attr('x',302).attr('y',18).attr('width',31).attr('height',14).attr('fill','#c0c0c0');
tp.append('text').attr('x',317.5).attr('y',29).attr('text-anchor','middle').attr('font-family',F).attr('font-size',12).attr('fill','#111').text('D1');
tp.append('rect').attr('x',303).attr('y',33).attr('width',13).attr('height',12).attr('fill','#c0c0c0');
tp.append('rect').attr('x',318).attr('y',33).attr('width',13).attr('height',12).attr('fill','#c0c0c0');
tp.append('path').attr('d','M305,36 L314,36 L309.5,43 Z').attr('fill','#000');
tp.append('path').attr('d','M320,43 L329,43 L324.5,36 Z').attr('fill','#000');
</script>
</body></html>
